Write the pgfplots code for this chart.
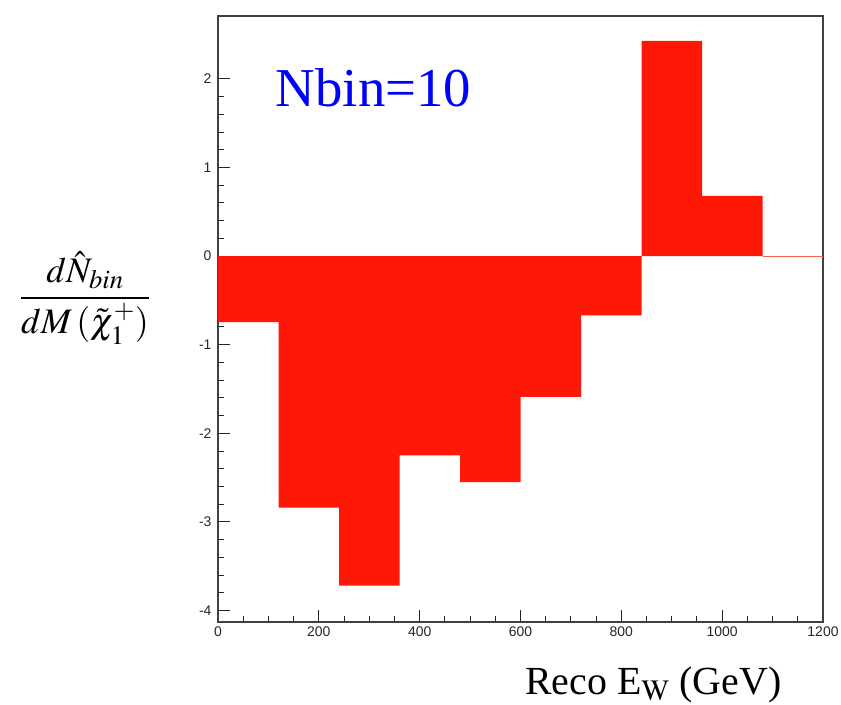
\documentclass[border=0pt]{standalone}
\usepackage{mathptmx}
\usepackage{fontspec}
\setmainfont{Liberation Serif}
\newfontfamily\arial{Liberation Sans}
\usepackage{pgfplots}
\pgfplotsset{compat=1.18}
\usetikzlibrary{calc}
\definecolor{barred}{RGB}{255,24,8}
\definecolor{labblue}{RGB}{0,0,255}
\begin{document}
\begin{tikzpicture}
\begin{axis}[
    name=ax,
    scale only axis,
    width=605bp, height=606bp,
    xmin=0, xmax=1200,
    ymin=-4.13, ymax=2.71,
    xtick={0,200,...,1200},
    ytick={-4,...,2},
    minor x tick num=3,
    minor y tick num=4,
    xtick pos=bottom, ytick pos=left,
    tick align=inside,
    major tick length=12bp,
    minor tick length=6bp,
    tick style={black!85, line width=1bp},
    axis line style={black!75, line width=1.3bp},
    ticklabel style={font=\arial\fontsize{14}{14}\selectfont, text=black!85},
    /pgf/number format/assume math mode=true,
    /pgf/number format/1000 sep={},
    xticklabel style={yshift=-1bp},
    yticklabel style={xshift=-3bp},
    clip=false,
]
% bin contents, 10 bins of 120 GeV
\addplot[ybar interval, fill=barred, draw=none] coordinates {
  (0,-0.745) (120,-2.84) (240,-3.72) (360,-2.25) (480,-2.55)
  (600,-1.59) (720,-0.67) (840,2.43) (960,0.68) (1080,0) (1200,0)
};
\addplot[barred!70, line width=0.8bp] coordinates {(1080,0) (1200,0)};
\node[anchor=base west, text=labblue, font=\fontsize{55}{55}\selectfont]
  at (axis cs:108,1.69) {Nbin=10};
\end{axis}
\node[anchor=base east, font=\fontsize{40}{40}\selectfont]
  at ($(ax.south east)+(-38bp,-72bp)$) {Reco E$_{\mathrm{W}}$ (GeV)};
\node[font=\fontsize{36}{36}\selectfont]
  at ($(ax.south west)+(-133bp,324bp)$)
  {$\displaystyle\frac{d\hat{N}_{bin}}{dM\,(\tilde{\chi}_1^{+})}$};
\pgfresetboundingbox
\useasboundingbox ($(ax.south west)+(-218bp,-83bp)$) rectangle ($(ax.north east)+(18bp,16bp)$);
\end{tikzpicture}
\end{document}
